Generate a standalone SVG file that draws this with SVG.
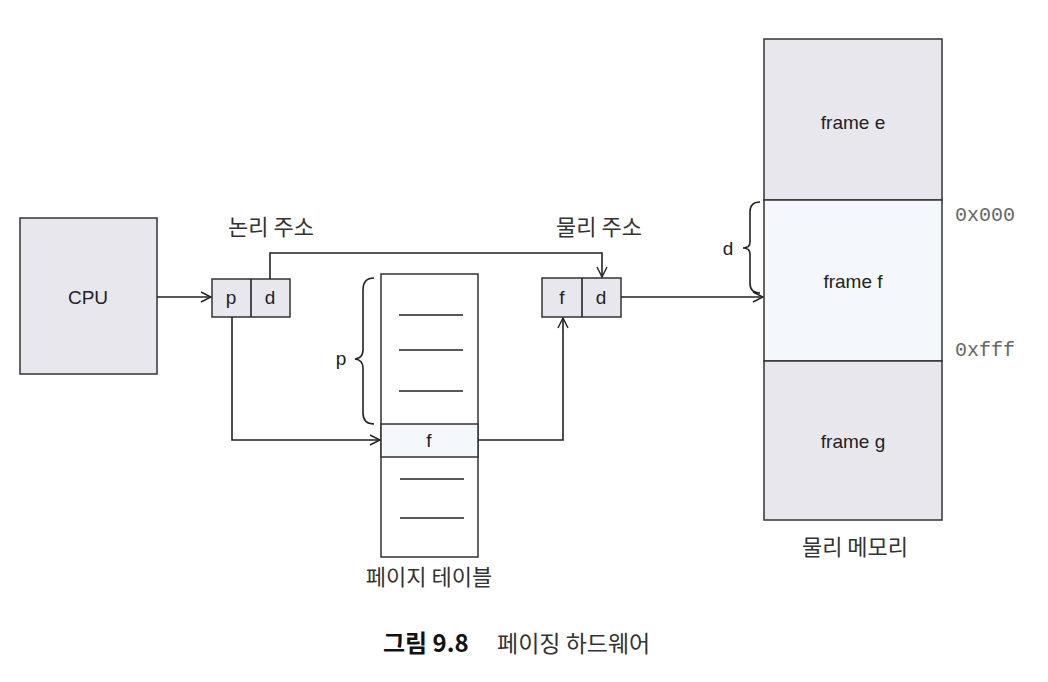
<svg xmlns="http://www.w3.org/2000/svg" width="1048" height="682" viewBox="0 0 1048 682">
<style>
.box{fill:#e9e7ee;stroke:#333;stroke-width:1.5}
.lt{fill:#f4f7fb;stroke:#333;stroke-width:1.5}
.ln{fill:none;stroke:#222;stroke-width:1.6}
.t{font-family:"Liberation Sans",Arial,sans-serif;font-size:19px;fill:#222;text-anchor:middle}
.k{font-family:"Noto Sans CJK KR","Noto Sans",sans-serif;font-size:22px;fill:#333;text-anchor:middle}
.m{font-family:"Liberation Mono","Courier New",monospace;font-size:20px;fill:#666}
</style>
<defs>
<marker id="ar" viewBox="0 0 12 12" refX="11" refY="6" markerWidth="12" markerHeight="12" markerUnits="userSpaceOnUse" orient="auto">
<path d="M1,1 L11,6 L1,11" fill="none" stroke="#222" stroke-width="1.4"/>
</marker>
</defs>
<rect width="1048" height="682" fill="#fff"/>
<g id="cpu"><rect class="box" x="20" y="218" width="137" height="156"/><text class="t" x="88" y="304">CPU</text></g>
<g id="logical"><rect class="box" x="212" y="279" width="78" height="38"/><line class="ln" x1="251" y1="279" x2="251" y2="317"/><text class="t" x="231" y="304">p</text><text class="t" x="270" y="304">d</text><text class="k" x="271" y="235">논리 주소</text></g>
<g id="physical"><rect class="box" x="542" y="278" width="79" height="39"/><line class="ln" x1="582" y1="278" x2="582" y2="317"/><text class="t" x="562" y="304">f</text><text class="t" x="601" y="304">d</text><text class="k" x="599" y="235">물리 주소</text></g>
<g id="pagetable">
<rect x="381" y="274" width="97" height="283" fill="#fff" stroke="#333" stroke-width="1.5"/>
<rect class="lt" x="381" y="424" width="97" height="33"/>
<text class="t" x="429" y="447">f</text>
<line class="ln" x1="399" y1="315" x2="463" y2="315"/>
<line class="ln" x1="399" y1="350" x2="463" y2="350"/>
<line class="ln" x1="399" y1="391" x2="463" y2="391"/>
<line class="ln" x1="400" y1="479" x2="464" y2="479"/>
<line class="ln" x1="400" y1="518" x2="464" y2="518"/>
<path class="ln" d="M374,278 Q363,278 363,290 L363,350 Q363,358 355,359 Q363,360 363,368 L363,413 Q363,424 374,424"/>
<text class="t" x="341" y="365">p</text>
<text class="k" x="429" y="585">페이지 테이블</text>
</g>
<g id="memory">
<rect class="box" x="764" y="39" width="178" height="161"/>
<rect class="lt" x="764" y="200" width="178" height="161"/>
<rect class="box" x="764" y="361" width="178" height="159"/>
<text class="t" x="853" y="129">frame e</text>
<text class="t" x="853" y="288">frame f</text>
<text class="t" x="853" y="448">frame g</text>
<text class="m" x="955" y="221">0x000</text>
<text class="m" x="955" y="356">0xfff</text>
<path class="ln" d="M760,202 Q750,202 750,212 L750,242 Q750,248 743,248 Q750,248 750,254 L750,283 Q750,293 760,293"/>
<text class="t" x="728" y="255">d</text>
<text class="k" x="855" y="555">물리 메모리</text>
</g>
<g id="connectors">
<line class="ln" x1="157" y1="297" x2="211" y2="297" marker-end="url(#ar)"/>
<polyline class="ln" points="270,279 270,253 602,253 602,277" marker-end="url(#ar)"/>
<polyline class="ln" points="232,317 232,440 380,440" marker-end="url(#ar)"/>
<polyline class="ln" points="478,440 563,440 563,318" marker-end="url(#ar)"/>
<line class="ln" x1="621" y1="297" x2="763" y2="297" marker-end="url(#ar)"/>
</g>
<g id="caption">
<text x="383" y="652" style="font-family:'Noto Sans CJK KR',sans-serif;font-weight:bold;font-size:24px;fill:#111">그림 9.8</text>
<text x="497" y="652" style="font-family:'Noto Sans CJK KR',sans-serif;font-size:23px;fill:#333">페이징 하드웨어</text>
</g>
</svg>
